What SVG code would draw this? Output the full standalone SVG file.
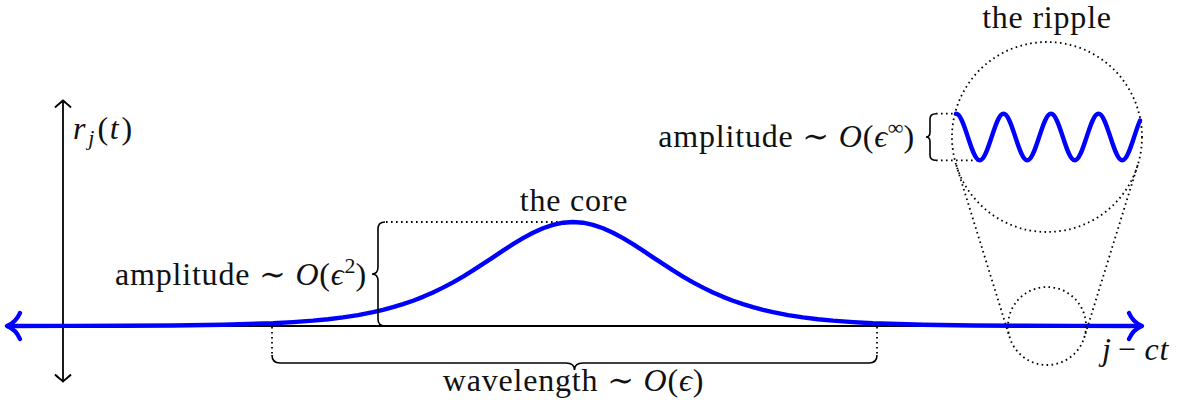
<svg xmlns="http://www.w3.org/2000/svg" width="1188" height="400" viewBox="0 0 1188 400">
<style>
.ax{stroke:#000;stroke-width:1.8;fill:none}
.blue{stroke:#0000ff;stroke-width:4.4;fill:none;stroke-linecap:round;stroke-linejoin:round}
.dot{stroke:#000;stroke-width:1.8;fill:none;stroke-dasharray:1.6 3.4}
.brace{stroke:#000;stroke-width:1.6;fill:none}
text{font-family:"Liberation Serif","DejaVu Serif",serif;font-size:32px;letter-spacing:0.8px;fill:#111}
.it{font-style:italic}
.sm{font-size:22px;letter-spacing:0}
</style>
<rect width="1188" height="400" fill="#fff"/>
<g id="axes">
  <line class="ax" x1="8" y1="326" x2="1140" y2="326"/>
  <line class="ax" x1="63" y1="100.5" x2="63" y2="381.5"/>
  <path class="ax" d="M55,107.5 C58,104.5 61,102.5 63,100.5 C65,102.5 68,104.5 71,107.5"/>
  <path class="ax" d="M55,374.5 C58,377.5 61,379.5 63,381.5 C65,379.5 68,377.5 71,374.5"/>
</g>
<g id="connectors">
  <line class="dot" x1="386" y1="222" x2="573" y2="222"/>
  <line class="dot" x1="272" y1="327" x2="272" y2="355"/>
  <line class="dot" x1="877" y1="327" x2="877" y2="355"/>
  <line class="dot" x1="936" y1="113.7" x2="956" y2="113.7"/>
  <line class="dot" x1="936" y1="160.3" x2="980" y2="160.3"/>
  <line class="dot" x1="956.3" y1="165.1" x2="1009.75" y2="337.6"/>
  <line class="dot" x1="1137.7" y1="165.1" x2="1084.25" y2="337.6"/>
</g>
<g id="core-curve">
  <polyline class="blue" points="8,325.95 73,325.9 123,325.77 173,325.47 223,324.79 273,323.23 293,322.16 313,320.68 328,319.22 343,317.38 358,315.06 373,312.16 383,309.86 393,307.21 403,304.18 413,300.73 423,296.84 433,292.48 443,287.64 453,282.32 463,276.56 473,270.41 483,263.95 493,257.32 503,250.68 513,244.21 523,238.15 533,232.75 543,228.24 553,224.84 563,222.72 573,222 583,222.72 593,224.84 603,228.24 613,232.75 623,238.15 633,244.21 643,250.68 653,257.32 663,263.95 673,270.41 683,276.56 693,282.32 703,287.64 713,292.48 723,296.84 733,300.73 743,304.18 753,307.21 763,309.86 773,312.16 788,315.06 803,317.38 818,319.22 833,320.68 853,322.16 873,323.23 923,324.79 973,325.47 1023,325.77 1073,325.9 1140,326"/>
  <path class="blue" d="M20,313 C17,320 12,324 7,326 C12,328 17,332 20,339"/>
  <path class="blue" d="M1129,313 C1132,320 1137,324 1142,326 C1137,328 1132,332 1129,339"/>
</g>
<g id="core-amplitude">
  <path class="brace" d="M385,222 Q378,222 378,229 L378,267 Q378,274 372,274 Q378,274 378,281 L378,319 Q378,326 385,326"/>
  <text x="367" y="284.5" text-anchor="end">amplitude ∼ <tspan class="it">O</tspan>(<tspan class="it">ϵ</tspan><tspan class="sm" dy="-12">2</tspan><tspan dy="12">)</tspan></text>
</g>
<g id="core-label">
  <text x="574" y="210.5" text-anchor="middle">the core</text>
</g>
<g id="wavelength">
  <path class="brace" d="M272,355 Q272,363 280,363 L566,363 Q574.5,363 574.5,370 Q574.5,363 583,363 L869,363 Q877,363 877,355"/>
  <text x="573.5" y="391" text-anchor="middle">wavelength ∼ <tspan class="it">O</tspan>(<tspan class="it">ϵ</tspan>)</text>
</g>
<g id="ripple">
  <circle class="dot" cx="1047" cy="137" r="95"/>
  <circle class="dot" cx="1047" cy="326" r="39"/>
  <path class="blue" d="M956,113.7 C960.297,113.7 964.002,125.06 967.875,137 S975.453,160.3 979.75,160.3 S987.752,148.94 991.625,137 S999.203,113.7 1003.5,113.7 S1011.502,125.06 1015.375,137 S1022.953,160.3 1027.25,160.3 S1035.252,148.94 1039.125,137 S1046.703,113.7 1051,113.7 S1059.002,125.06 1062.875,137 S1070.453,160.3 1074.75,160.3 S1082.752,148.94 1086.625,137 S1094.203,113.7 1098.5,113.7 S1106.502,125.06 1110.375,137 S1117.953,160.3 1122.25,160.3 S1130.252,148.94 1134.125,137 C1136.09,130.96 1138.04,124.9 1140,120.6"/>
  <text x="1047" y="28" text-anchor="middle">the ripple</text>
</g>
<g id="ripple-amplitude">
  <path class="brace" d="M936,113.7 Q930,113.7 930,119 L930,132 Q930,137 926,137 Q930,137 930,142 L930,155 Q930,160.3 936,160.3"/>
  <text x="915" y="146.5" text-anchor="end">amplitude ∼ <tspan class="it">O</tspan>(<tspan class="it">ϵ</tspan><tspan class="sm" dy="-12">∞</tspan><tspan dy="12">)</tspan></text>
</g>
<g id="labels">
  <text x="73" y="139"><tspan class="it">r</tspan><tspan class="it sm" dx="2" dy="6">j</tspan><tspan dx="3" dy="-6">(</tspan><tspan class="it" dx="1">t</tspan><tspan dx="2">)</tspan></text>
  <text x="1102" y="360"><tspan class="it">j</tspan><tspan dx="6">−</tspan><tspan class="it" dx="8">ct</tspan></text>
</g>
</svg>
